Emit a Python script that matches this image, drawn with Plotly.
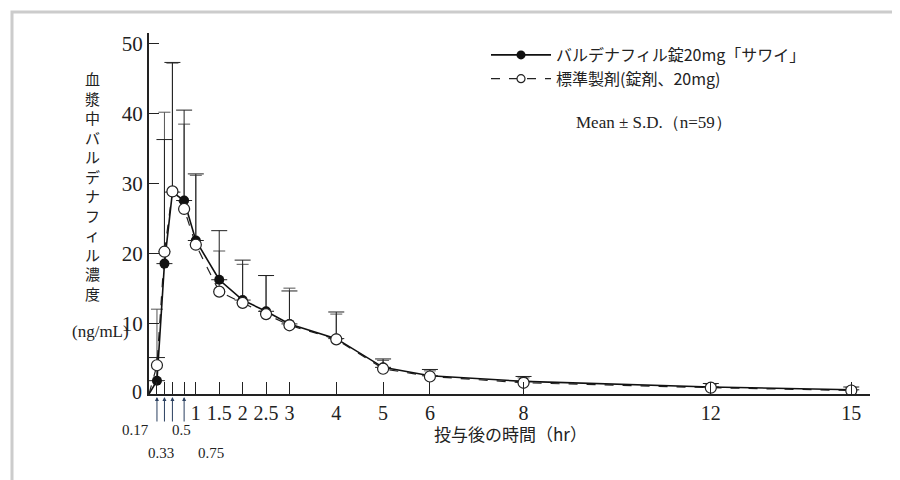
import plotly.graph_objects as go

hours = [0, 0.17, 0.33, 0.5, 0.75, 1, 1.5, 2, 2.5, 3, 4, 5, 6, 8, 12, 15]
test_mean = [0, 1.9, 18.6, 28.8, 27.6, 21.9, 16.3, 13.4, 11.8, 10.0, 7.9, 3.8, 2.6, 1.8, 1.0, 0.6]
test_top = [0, 5.2, 36.3, 47.3, 40.5, 31.4, 23.3, 19.1, 16.9, 14.7, 11.7, 5.0, 3.5, 2.5, 1.5, 1.0]
ref_mean = [0, 4.1, 20.3, 28.9, 26.4, 21.3, 14.6, 13.0, 11.4, 9.8, 7.8, 3.6, 2.5, 1.6, 0.9, 0.5]
ref_top = [0, 12.1, 40.2, 47.2, 38.5, 31.2, 20.4, 18.5, 16.9, 15.1, 11.4, 4.8, 3.3, 2.3, 1.4, 0.9]
tick_vals = [1, 1.5, 2, 2.5, 3, 4, 5, 6, 8, 12, 15]
early_hours = [0.17, 0.33, 0.5, 0.75]

serif = "Liberation Serif"
cjk = "Noto Sans CJK JP"

L, R, T, B = 141, 862, 25, 386


def px(x, y):
    return (x - L) / (R - L), (B - y) / (B - T)


test_sd = [t - m for t, m in zip(test_top, test_mean)]
ref_sd = [t - m for t, m in zip(ref_top, ref_mean)]
n = len(hours) - 1

fig = go.Figure()
fig.add_trace(go.Scatter(
    x=hours[1:], y=ref_mean[1:], mode="markers", showlegend=False,
    marker=dict(size=1, color="rgba(0,0,0,0)"),
    error_y=dict(type="data", symmetric=False, array=ref_sd[1:], arrayminus=[0] * n,
                 color="#555", thickness=1, width=6)))
fig.add_trace(go.Scatter(
    x=hours[1:], y=test_mean[1:], mode="markers", showlegend=False,
    marker=dict(size=1, color="rgba(0,0,0,0)"),
    error_y=dict(type="data", symmetric=False, array=test_sd[1:], arrayminus=[0] * n,
                 color="#222", thickness=1, width=8)))
fig.add_trace(go.Scatter(
    x=hours, y=ref_mean, mode="lines", showlegend=False,
    line=dict(color="#222", width=1.2, dash="dash")))
fig.add_trace(go.Scatter(
    x=hours, y=test_mean, mode="lines", showlegend=False,
    line=dict(color="#111", width=1.6)))
fig.add_trace(go.Scatter(
    x=hours[1:], y=test_mean[1:], mode="markers", showlegend=False,
    marker=dict(size=10, color="#111")))
fig.add_trace(go.Scatter(
    x=hours[1:], y=ref_mean[1:], mode="markers", showlegend=False,
    marker=dict(size=11, color="white", line=dict(color="#222", width=1.2))))
# legend-only entries
fig.add_trace(go.Scatter(
    x=[None], y=[None], mode="lines+markers", name="バルデナフィル錠20mg「サワイ」",
    line=dict(color="#111", width=1.6), marker=dict(size=9, color="#111")))
fig.add_trace(go.Scatter(
    x=[None], y=[None], mode="lines+markers", name="標準製剤(錠剤、20mg)",
    line=dict(color="#222", width=1.2, dash="dash"),
    marker=dict(size=8, color="white", line=dict(color="#222", width=1.2))))

ann = []
for h, lx, ly in zip(early_hours, [112, 138, 162, 188], [432, 455, 432, 455]):
    ann.append(dict(x=h, y=0, xref="x", yref="y", yshift=-3, text="", showarrow=True,
                    arrowhead=2, arrowsize=0.8, arrowwidth=1, ax=0, ay=26))
    x, y = px(lx, ly)
    ann.append(dict(x=x, y=y, xref="paper", yref="paper", text=str(h), showarrow=False,
                    font=dict(family=serif, size=15, color="#222")))


def note(xp, yp, text, family, size, **kw):
    x, y = px(xp, yp)
    ann.append(dict(x=x, y=y, xref="paper", yref="paper", showarrow=False, text=text,
                    font=dict(family=family, size=size, color="#222"), **kw))


note(75, 58, "<br>".join("血漿中バルデナフィル濃度"), cjk, 15, yanchor="top")
note(62, 335, "(ng/mL)", serif, 17)
note(122, 397, "0", serif, 20)
note(502, 440, "投与後の時間（hr）", cjk, 17)
note(566, 103, "Mean ± S.D.（n=59）", serif, 17, xanchor="left")

bx0, by0 = px(4, 476)
bx1, by1 = px(896, 4)
fig.update_layout(
    width=900, height=480, paper_bgcolor="white", plot_bgcolor="white",
    margin=dict(l=L, r=900 - R, t=T, b=480 - B, autoexpand=False),
    font=dict(family=serif, color="#222"),
    legend=dict(x=px(478, 0)[0], y=px(0, 30)[1], xanchor="left", yanchor="top",
                bgcolor="rgba(0,0,0,0)", itemwidth=60,
                font=dict(family=cjk, size=16, color="#222")),
    annotations=ann,
    shapes=[dict(type="rect", xref="paper", yref="paper", x0=bx0, x1=bx1, y0=by0, y1=by1,
                 line=dict(color="#ccc", width=3))],
)
fig.update_xaxes(range=[0, 15.4], tickvals=early_hours + tick_vals,
                 ticktext=[""] * 4 + [str(v) for v in tick_vals], automargin=False,
                 ticks="inside", ticklen=12, tickcolor="#222", showgrid=False, zeroline=False,
                 showline=True, linecolor="#222", linewidth=2,
                 tickfont=dict(family=serif, size=20, color="#222"))
fig.update_yaxes(range=[0, 51.5], tickvals=[10, 20, 30, 40, 50], ticks="inside", ticklen=10,
                 automargin=False, tickcolor="#222", showgrid=False, zeroline=False,
                 showline=True, linecolor="#222", linewidth=2,
                 tickfont=dict(family=serif, size=21, color="#222"))

fig.write_html("out.html")
